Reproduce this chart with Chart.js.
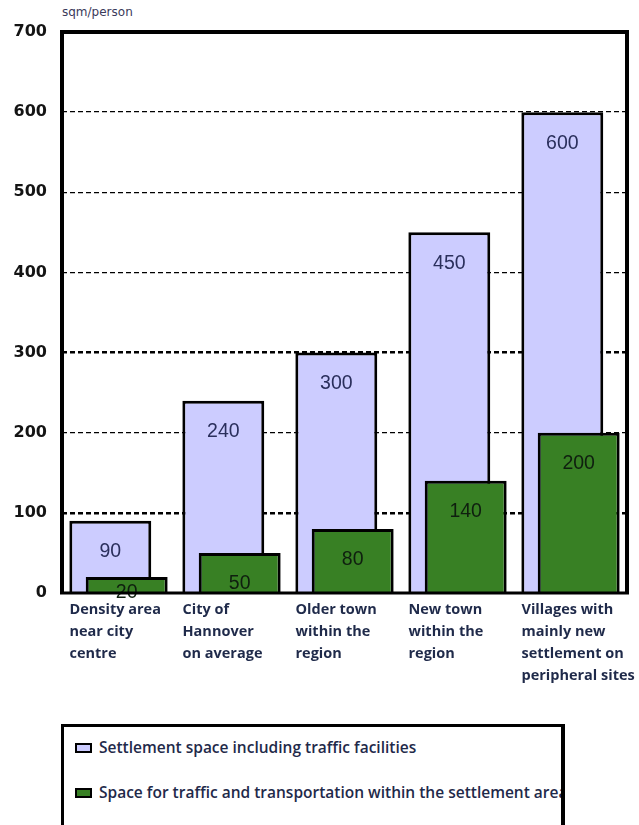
<!DOCTYPE html>
<html>
<head>
<meta charset="utf-8">
<script src="https://cdn.jsdelivr.net/npm/chart.js@4.4.1/dist/chart.umd.min.js"></script>
<style>
  body { margin: 0; background: #fff; width: 639px; height: 825px; overflow: hidden; position: relative; }
  #wrap { position: absolute; left: 0; top: 0; width: 639px; height: 700px; }
  #unit { position: absolute; left: 62px; top: 5px; font: 12px "DejaVu Sans", sans-serif; color: #3a3a5a; }
  #legend { position: absolute; left: 61px; top: 724px; width: 497px; height: 110px; border: 3px solid #000; border-right-width: 4px;
            overflow: hidden; white-space: nowrap; font: 600 15.5px "Open Sans", sans-serif; color: #1f2a4a; }
  .item { position: absolute; left: 11px; line-height: 20px; }
  .sw { display: inline-block; width: 13px; height: 6px; border: 2.5px solid #000; vertical-align: middle; margin-right: 7px; position: relative; top: -1px; }
</style>
</head>
<body>
<div id="unit">sqm/person</div>
<div id="wrap"><canvas id="barChart" width="639" height="700"></canvas></div>
<div id="legend"></div>
<script>
  // data
  var categories = [
    ["Density area", "near city", "centre"],
    ["City of", "Hannover", "on average"],
    ["Older town", "within the", "region"],
    ["New town", "within the", "region"],
    ["Villages with", "mainly new", "settlement on", "peripheral sites"]
  ];
  var settlementSpace = [90, 240, 300, 450, 600];
  var trafficSpace = [20, 50, 80, 140, 200];
  var seriesNames = ["Settlement space including traffic facilities",
                     "Space for traffic and transportation within the settlement area"];
  var seriesColors = ["#ccccff", "#388024"];
  var labelColors = ["#2a2f5c", "#0f1f0f"];

  // draw the lavender bars first so the green ones sit on top,
  // then the values and the frame
  var drawing = {
    id: 'drawing',
    beforeDatasetsDraw: function(chart) {
      var ctx = chart.ctx, a = chart.chartArea;
      [0, 1].forEach(function(i) { chart.getDatasetMeta(i).controller.draw(); });

      ctx.save();
      ctx.font = '19.5px "Liberation Sans", Arial, sans-serif';
      ctx.textAlign = 'center';
      ctx.textBaseline = 'middle';
      chart.data.datasets.forEach(function(ds, i) {
        ctx.fillStyle = labelColors[i];
        chart.getDatasetMeta(i).data.forEach(function(bar, j) {
          var y = Math.min(bar.y + 31, bar.base);
          ctx.fillText(ds.data[j], bar.x, y);
        });
      });

      ctx.strokeStyle = '#000';
      ctx.lineWidth = 4;
      ctx.beginPath();
      ctx.moveTo(a.left, a.bottom);
      ctx.lineTo(a.left, a.top);
      ctx.lineTo(a.right, a.top);
      ctx.lineTo(a.right, a.bottom);
      ctx.stroke();
      ctx.lineWidth = 3;
      ctx.beginPath();
      ctx.moveTo(a.left - 2, a.bottom);
      ctx.lineTo(a.right + 2, a.bottom);
      ctx.stroke();
      ctx.restore();
      return false;
    }
  };

  var ctxB = document.getElementById("barChart").getContext('2d');
  var myBarChart = new Chart(ctxB, {
    type: 'bar',
    data: {
      labels: categories,
      datasets: [{
        label: seriesNames[0],
        data: settlementSpace,
        backgroundColor: seriesColors[0],
        borderColor: '#000',
        borderWidth: 3
      }, {
        label: seriesNames[1],
        data: trafficSpace,
        backgroundColor: seriesColors[1],
        borderColor: '#000',
        borderWidth: 3
      }]
    },
    options: {
      responsive: false,
      animation: false,
      categoryPercentage: 0.29,
      barPercentage: 5.0,
      layout: { padding: { top: 32, right: 12, left: 0, bottom: 0 } },
      plugins: { legend: { display: false }, tooltip: { enabled: false } },
      scales: {
        x: {
          grid: { display: false, drawTicks: false },
          border: { display: false },
          ticks: {
            align: 'start',
            labelOffset: -49,
            padding: 6,
            maxRotation: 0,
            autoSkip: false,
            color: '#1f2a4a',
            font: { family: '"Open Sans", sans-serif', size: 14.5, weight: 'bold', lineHeight: 1.52 }
          },
          afterFit: function(s) { s.height = 107; s.paddingLeft = 0; s.paddingRight = 0; }
        },
        y: {
          min: 0,
          max: 700,
          ticks: {
            stepSize: 100,
            padding: 15,
            color: '#141414',
            font: { family: '"DejaVu Sans", sans-serif', size: 16, weight: 'bold' }
          },
          grid: {
            drawTicks: false,
            color: '#000',
            lineWidth: function(c) { return (c.tick && (c.tick.value === 100 || c.tick.value === 300)) ? 2.5 : 1.3; }
          },
          border: { display: false, dash: [5, 3] },
          afterFit: function(s) { s.width = 62; s.paddingTop = 0; s.paddingBottom = 0; }
        }
      }
    },
    plugins: [drawing]
  });

  // legend box
  var legend = document.getElementById('legend');
  var tops = [10, 55];
  seriesNames.forEach(function(name, i) {
    var d = document.createElement('div');
    d.className = 'item';
    d.style.top = tops[i] + 'px';
    d.innerHTML = '<span class="sw" style="background:' + seriesColors[i] + '"></span>' + name;
    legend.appendChild(d);
  });
</script>
</body>
</html>
